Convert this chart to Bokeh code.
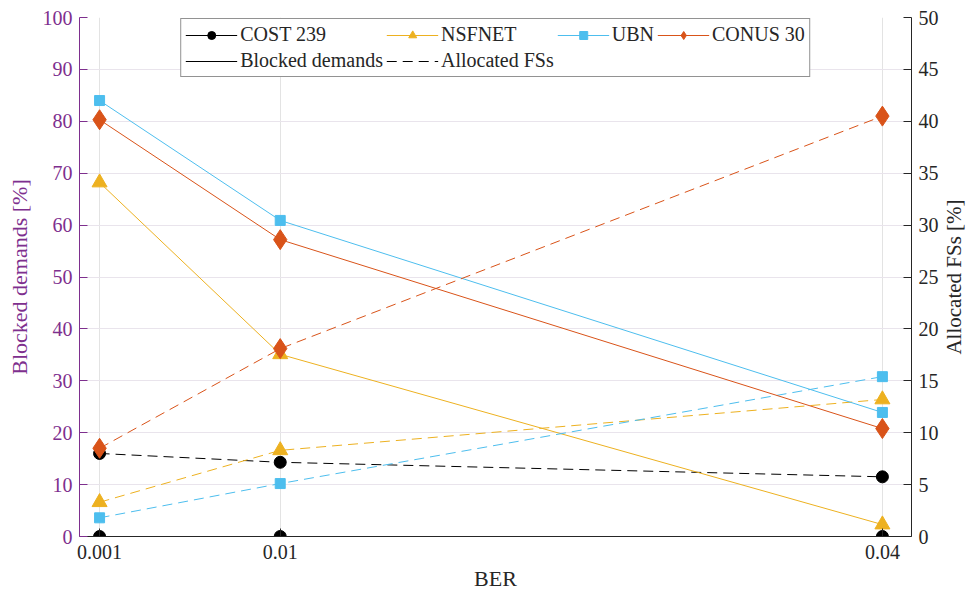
import math
from bokeh.plotting import figure
from bokeh.layouts import row
from bokeh.models import (Range1d, LinearAxis, FixedTicker, Legend, LegendItem, Label)
from bokeh.embed import file_html
from bokeh.resources import INLINE

# ---- data ----
ber = [0.001, 0.01, 0.04]
ber_labels = {0.001: "0.001", 0.01: "0.01", 0.04: "0.04"}
networks = ["COST 239", "NSFNET", "UBN", "CONUS 30"]
blocked = {
    "COST 239": [0.0, 0.0, 0.0],
    "NSFNET": [68.2, 35.1, 2.3],
    "UBN": [84.0, 60.9, 23.9],
    "CONUS 30": [80.3, 57.2, 20.8],
}
allocated = {
    "COST 239": [8.0, 7.15, 5.75],
    "NSFNET": [3.3, 8.3, 13.2],
    "UBN": [1.8, 5.1, 15.4],
    "CONUS 30": [8.5, 18.1, 40.5],
}
left_ticks = list(range(0, 101, 10))
right_ticks = list(range(0, 51, 5))

colors = {"COST 239": "#000000", "NSFNET": "#EDB120", "UBN": "#4DBEEE", "CONUS 30": "#D95319"}
markers = {"COST 239": "circle", "NSFNET": "triangle", "UBN": "square", "CONUS 30": "diamond"}
msize = {"COST 239": 12, "NSFNET": 15, "UBN": 10, "CONUS 30": 20}
purple = "#7E2F8E"
FONT = "'Liberation Serif', 'DejaVu Serif', serif"
AXFONT = "Liberation Serif"

W, H = 966, 593
SIDE_W = 25
BT, BB = 17, 55  # top / bottom borders
p = figure(width=W - SIDE_W, height=H, output_backend="svg", toolbar_location=None,
           x_range=Range1d(0.0, 0.04145), y_range=Range1d(0, 100),
           min_border_left=79, min_border_right=30, min_border_top=BT, min_border_bottom=BB)
p.extra_y_ranges = {"fs": Range1d(0, 50)}
p.outline_line_color = None
p.background_fill_color = "white"
p.border_fill_color = "white"

# grids
p.xgrid.ticker = FixedTicker(ticks=ber)
p.xgrid.grid_line_color = "#e3e3e3"
p.ygrid.ticker = FixedTicker(ticks=left_ticks)
p.ygrid.grid_line_color = "#e9e4ec"

# axes
xa = p.xaxis[0]
xa.ticker = FixedTicker(ticks=ber)
xa.major_label_overrides = ber_labels
xa.axis_label = "BER"
ya = p.yaxis[0]
ya.ticker = FixedTicker(ticks=left_ticks)
ya.axis_label = "Blocked demands [%]"

ra = LinearAxis(y_range_name="fs", ticker=FixedTicker(ticks=right_ticks))
p.add_layout(ra, "right")

for ax, col in [(xa, "#262626"), (ya, purple), (ra, "#262626")]:
    ax.axis_line_color = col
    ax.major_tick_line_color = col
    ax.major_label_text_color = col
    ax.axis_label_text_color = col
    ax.major_tick_in = 8
    ax.major_tick_out = 0
    ax.minor_tick_line_color = None
    ax.major_label_text_font = AXFONT
    ax.major_label_text_font_size = "20px"
    ax.axis_label_text_font = AXFONT
    ax.axis_label_text_font_size = "22px"
    ax.axis_label_text_font_style = "normal"
    ax.major_label_standoff = 7
    ax.axis_label_standoff = 8
xa.major_label_standoff = 8
xa.axis_label_standoff = 4

legend_items = {}
for n in networks:
    c = colors[n]
    lr = p.line(ber, blocked[n], line_color=c, line_width=1)
    dr = p.line(ber, allocated[n], line_color=c, line_width=1, line_dash="10 6",
                y_range_name="fs")
    sr = p.scatter(ber, blocked[n], marker=markers[n], size=msize[n],
                   fill_color=c, line_color=c)
    p.scatter(ber, allocated[n], marker=markers[n], size=msize[n],
              fill_color=c, line_color=c, y_range_name="fs")
    legend_items[n] = (lr, sr, dr)

solid_black = legend_items["COST 239"][0]
dash_black = legend_items["COST 239"][2]
blank = p.line(ber, blocked["COST 239"], line_alpha=0)

items = [
    LegendItem(label="COST 239", renderers=list(legend_items["COST 239"][:2])),
    LegendItem(label="Blocked demands", renderers=[solid_black]),
    LegendItem(label="NSFNET", renderers=list(legend_items["NSFNET"][:2])),
    LegendItem(label="Allocated FSs", renderers=[dash_black]),
    LegendItem(label="UBN", renderers=list(legend_items["UBN"][:2])),
    LegendItem(label=" ", renderers=[blank]),
    LegendItem(label="CONUS 30", renderers=list(legend_items["CONUS 30"][:2])),
    LegendItem(label="  ", renderers=[blank]),
]

legend = Legend(items=items, ncols=4, location="top_center",
                label_text_font=FONT, label_text_font_size="20px",
                label_text_color="#262626",
                glyph_width=52, glyph_height=20, label_height=20,
                label_standoff=3, spacing=3, padding=4, margin=1,
                border_line_color="#262626", border_line_width=1,
                background_fill_alpha=1.0)
p.add_layout(legend, "center")

# narrow side panel holding the right-axis title (reads bottom to top)
side = figure(width=SIDE_W, height=H, output_backend="svg", toolbar_location=None,
              x_range=Range1d(0, 1), y_range=Range1d(0, 1),
              x_axis_location=None, y_axis_location=None,
              min_border_left=0, min_border_right=0, min_border_top=BT, min_border_bottom=BB)
side.grid.visible = False
side.outline_line_color = None
side.background_fill_color = "white"
side.border_fill_color = "white"
side.add_layout(Label(x=0.48, y=0.5, text="Allocated FSs [%]", angle=90, angle_units="deg",
                      text_align="center", text_baseline="middle",
                      text_font=AXFONT, text_font_size="21px", text_color="#262626"))

layout = row(p, side)
open("out.html", "w").write(file_html(layout, INLINE))
